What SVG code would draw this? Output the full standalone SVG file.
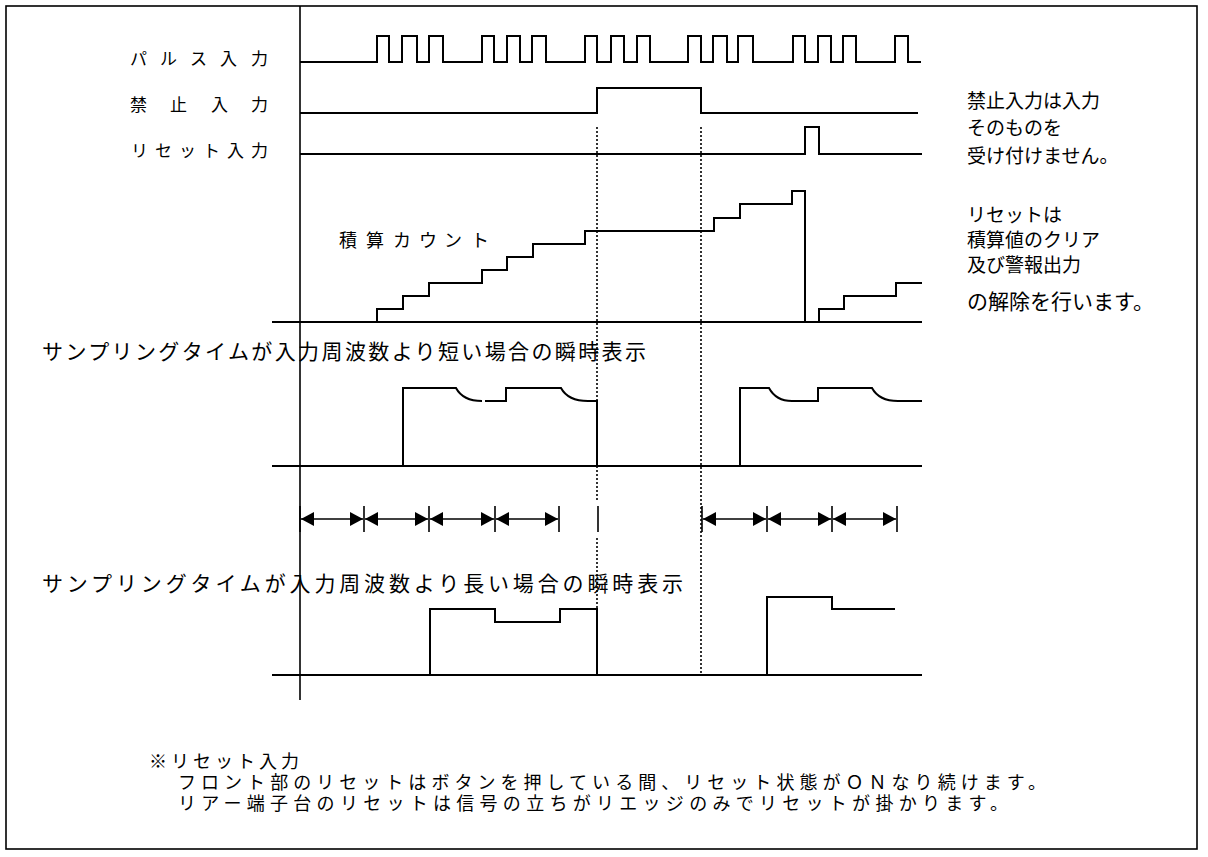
<svg xmlns="http://www.w3.org/2000/svg" width="1208" height="857" viewBox="0 0 1208 857">
<style>
.w{fill:none;stroke:#000;stroke-width:2;stroke-linejoin:miter}
.ax{fill:none;stroke:#000;stroke-width:1.6}
.dot{fill:none;stroke:#000;stroke-width:1.6;stroke-dasharray:2 2}
.tk{fill:none;stroke:#000;stroke-width:1.6}
.ar{fill:none;stroke:#000;stroke-width:1.6;marker-start:url(#ah);marker-end:url(#ah)}
.t{font-family:"Noto Sans CJK JP","Noto Sans CJK SC",sans-serif;fill:#000}
.lb{font-size:17px}
.rt{font-size:19px}
.sm{font-size:21px}
.nt{font-size:18px}
</style>
<defs>
<marker id="ah" markerUnits="userSpaceOnUse" markerWidth="14" markerHeight="14" viewBox="0 0 14 14" refX="13" refY="7" orient="auto-start-reverse">
<path d="M0,0 L13,7 L0,14 z" fill="#000"/>
</marker>
</defs>
<rect x="6" y="6" width="1191" height="843" fill="#fff" stroke="#000" stroke-width="1.6"/>
<line class="ax" x1="300" y1="6" x2="300" y2="700"/>

<g id="pulse-input">
<text class="t lb" x="130 160 190 220 251" y="65">パルス入力</text>
<path class="w" d="M300,62 H377 V36 H389 V62 H402 V36 H417 V62 H429 V36 H443 V62 H482 V36 H494 V62 H507 V36 H520 V62 H532 V36 H546 V62 H585 V36 H597 V62 H611 V36 H624 V62 H637 V36 H650 V62 H688 V36 H701 V62 H713 V36 H727 V62 H738 V36 H753 V62 H793 V36 H805 V62 H818 V36 H831 V62 H843 V36 H856 V62 H895 V36 H908 V62 H921"/>
</g>

<g id="inhibit-input">
<text class="t lb" x="130 170 211 251" y="111">禁止入力</text>
<path class="w" d="M300,113 H597 V88 H701 V113 H918"/>
</g>

<g id="reset-input">
<text class="t lb" x="131 155 179 203 227 251" y="157">リセット入力</text>
<path class="w" d="M300,154 H805 V127 H819 V154 H922"/>
</g>

<g id="note-inhibit">
<text class="t rt" x="967" y="108">禁止入力は入力</text>
<text class="t rt" x="967" y="135">そのものを</text>
<text class="t rt" x="967" y="163">受け付けません。</text>
</g>

<g id="count">
<text class="t" font-size="18" x="339 366 393 419 444 471" y="247">積算カウント</text>
<line class="w" x1="272" y1="322" x2="922" y2="322"/>
<path class="w" d="M300,322 H377 V309 H403 V296 H429 V283 H482 V270 H507 V257 H533 V244 H585 V231 H714 V218 H740 V204 H792 V191 H805 V322 H819 V309 H844 V296 H896 V283 H922"/>
</g>

<g id="note-reset">
<text class="t rt" x="967" y="222">リセットは</text>
<text class="t rt" x="967" y="247">積算値のクリア</text>
<text class="t rt" x="967" y="272">及び警報出力</text>
<text class="t" font-size="21" x="967" y="309">の解除を行います。</text>
</g>

<g id="sample-short">
<text class="t sm" x="42" y="359" textLength="604" lengthAdjust="spacing">サンプリングタイムが入力周波数より短い場合の瞬時表示</text>
<line class="w" x1="272" y1="466" x2="922" y2="466"/>
<path class="w" d="M403,466 V388 H456 Q463,401 482,401 M485,401 H506 V388 H561 Q568,401 588,401 H597 V466"/>
<path class="w" d="M740,466 V388 H769 Q776,401 792,401 H818 V388 H872 Q879,401 898,401 H922"/>
</g>

<g id="sample-long">
<text class="t sm" x="42" y="591" textLength="641" lengthAdjust="spacing">サンプリングタイムが入力周波数より長い場合の瞬時表示</text>
<line class="w" x1="272" y1="675" x2="922" y2="675"/>
<path class="w" d="M430,675 V609 H495 V622 H560 V609 H597 V675"/>
<path class="w" d="M767,675 V597 H832 V609 H895"/>
</g>

<g id="connectors">
<line class="dot" x1="597" y1="127" x2="597" y2="401"/>
<line class="dot" x1="597" y1="466" x2="597" y2="502"/>
<line class="dot" x1="597" y1="538" x2="597" y2="609"/>
<line class="dot" x1="701" y1="127" x2="701" y2="675"/>
<line class="tk" x1="300" y1="506" x2="300" y2="532"/>
<line class="tk" x1="364" y1="506" x2="364" y2="532"/>
<line class="tk" x1="429" y1="506" x2="429" y2="532"/>
<line class="tk" x1="495" y1="506" x2="495" y2="532"/>
<line class="tk" x1="559" y1="506" x2="559" y2="532"/>
<line class="tk" x1="598" y1="506" x2="598" y2="532"/>
<line class="tk" x1="702" y1="506" x2="702" y2="532"/>
<line class="tk" x1="767" y1="506" x2="767" y2="532"/>
<line class="tk" x1="832" y1="506" x2="832" y2="532"/>
<line class="tk" x1="897" y1="506" x2="897" y2="532"/>
<line class="ar" x1="301" y1="519" x2="363" y2="519"/>
<line class="ar" x1="365" y1="519" x2="428" y2="519"/>
<line class="ar" x1="430" y1="519" x2="494" y2="519"/>
<line class="ar" x1="496" y1="519" x2="558" y2="519"/>
<line class="ar" x1="703" y1="519" x2="766" y2="519"/>
<line class="ar" x1="768" y1="519" x2="831" y2="519"/>
<line class="ar" x1="833" y1="519" x2="896" y2="519"/>
</g>

<g id="notes">
<text class="t nt" x="149" y="768" textLength="150" lengthAdjust="spacing">※リセット入力</text>
<text class="t nt" x="178" y="789" textLength="868" lengthAdjust="spacing">フロント部のリセットはボタンを押している間、リセット状態がＯＮなり続けます。</text>
<text class="t nt" x="178" y="810" textLength="830" lengthAdjust="spacing">リアー端子台のリセットは信号の立ちがリエッジのみでリセットが掛かります。</text>
</g>
</svg>
